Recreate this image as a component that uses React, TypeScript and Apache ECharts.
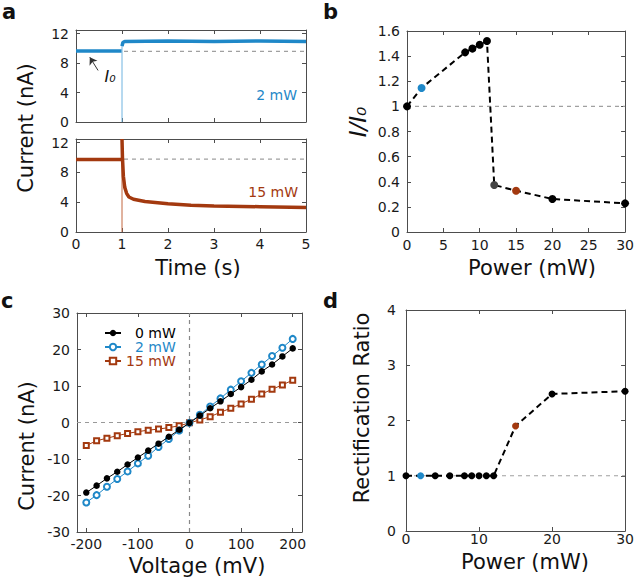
import React, { useEffect, useRef } from "react";
import * as echarts from "echarts";

const FONT = "'DejaVu Sans', 'Open Sans', sans-serif";
const BLUE = "#1f88c8";
const BROWN = "#a3390f";
const GRAYDASH = "#a0a0a0";
const AXIS = "#4d4d4d";
const TICKFS = 14;

// ---- Panel a: current vs time ----
const timeTicks = [0, 1, 2, 3, 4, 5];
const currentTicksA = [0, 4, 8, 12];
const i0Top = 9.6;
const i0Bottom = 9.8;
const blueBefore = [[0, 9.65], [0.99, 9.65]];
const blueAfter = [[1.0, 10.3], [1.02, 10.8], [1.06, 10.95], [2, 11.0], [3, 10.95], [4, 11.0], [5, 10.95]];
const blueSpike = [[1, 0], [1, 10.8]];
const brownBefore = [[0, 9.75], [0.99, 9.75]];
const brownAfter = [[1, 12.5], [1.01, 10], [1.03, 7.5], [1.06, 6.0], [1.1, 5.2], [1.15, 4.7], [1.25, 4.4], [1.5, 4.1], [2, 3.8], [2.5, 3.6], [3, 3.5], [4, 3.4], [5, 3.3]];
const brownSpike = [[1, 0], [1, 12.5]];

// ---- Panel b: I/I0 vs power ----
const bPower = [0, 2, 8, 9, 10, 11, 12, 15, 20, 30];
const bRatio = [1.0, 1.146, 1.43, 1.46, 1.49, 1.52, 0.374, 0.329, 0.263, 0.228];
const bColors = ["#000", BLUE, "#000", "#000", "#000", "#000", "#444", BROWN, "#000", "#000"];

// ---- Panel c: I-V curves ----
const voltage = [-200, -180, -160, -140, -120, -100, -80, -60, -40, -20, 0, 20, 40, 60, 80, 100, 120, 140, 160, 180, 200];
const iv0 = [-19.2, -17.3, -15.3, -13.5, -11.5, -9.6, -7.7, -5.8, -3.9, -2.0, -0.1, 1.9, 3.9, 5.8, 7.8, 9.7, 11.7, 14.0, 15.9, 18.1, 20.3];
const iv2 = [-21.9, -19.9, -17.6, -15.5, -13.4, -11.2, -9.1, -6.7, -4.5, -2.2, -0.1, 2.1, 4.4, 6.6, 9.0, 11.3, 13.6, 15.9, 18.2, 20.5, 22.9];
const iv15 = [-6.3, -5.0, -4.3, -3.6, -3.0, -2.5, -2.1, -1.8, -1.4, -0.9, -0.1, 0.7, 1.6, 2.8, 3.9, 5.1, 6.4, 7.8, 9.1, 10.3, 11.6];
const voltageTicks = [-200, -100, 0, 100, 200];

// ---- Panel d: rectification ratio ----
const dPower = [0, 2, 4, 6, 8, 9, 10, 11, 12, 15, 20, 30];
const dRatio = [1.0, 1.0, 1.0, 1.0, 1.0, 1.0, 1.0, 1.0, 1.0, 1.9, 2.48, 2.53];
const dColors = ["#000", BLUE, "#000", "#000", "#000", "#000", "#000", "#000", "#000", BROWN, "#000", "#000"];

type AxSpec = { min: number; max: number; interval?: number; custom?: number[]; labels: boolean; fmt?: any; margin?: number };

function buildAxes() {
  const xAxis: any[] = [];
  const yAxis: any[] = [];
  const add = (grid: number, x: AxSpec, y: AxSpec) => {
    for (const pos of ["bottom", "top"]) {
      xAxis.push({
        type: "value", gridIndex: grid, position: pos, min: x.min, max: x.max,
        interval: x.interval,
        axisLine: { show: true, onZero: false, lineStyle: { color: AXIS, width: 1 } },
        axisTick: { show: true, inside: true, length: 4, lineStyle: { color: AXIS }, customValues: x.custom },
        axisLabel: {
          show: pos === "bottom" && x.labels, color: "#1a1a1a", fontSize: TICKFS, fontFamily: FONT,
          margin: x.margin ?? 5, customValues: x.custom, formatter: x.fmt,
        },
        splitLine: { show: false },
      });
    }
    for (const pos of ["left", "right"]) {
      yAxis.push({
        type: "value", gridIndex: grid, position: pos, min: y.min, max: y.max,
        interval: y.interval,
        axisLine: { show: true, onZero: false, lineStyle: { color: AXIS, width: 1 } },
        axisTick: { show: true, inside: true, length: 4, lineStyle: { color: AXIS }, customValues: y.custom },
        axisLabel: {
          show: pos === "left" && y.labels, color: "#1a1a1a", fontSize: TICKFS, fontFamily: FONT,
          margin: y.margin ?? 7, customValues: y.custom, formatter: y.fmt,
        },
        splitLine: { show: false },
      });
    }
  };
  add(0, { min: 0, max: 5, interval: 1, labels: false }, { min: 0, max: 12.5, custom: currentTicksA, labels: true });
  add(1, { min: 0, max: 5, interval: 1, labels: true, margin: 5 }, { min: 0, max: 12.5, custom: currentTicksA, labels: true });
  add(2, { min: 0, max: 30, interval: 5, labels: true, margin: 6 }, { min: 0, max: 1.6, interval: 0.2, labels: true, fmt: (v: number) => String(+v.toFixed(1)) });
  add(3, { min: -218, max: 218, custom: voltageTicks, labels: true, margin: 5 }, { min: -30, max: 30, interval: 10, labels: true });
  add(4, { min: 0, max: 30, interval: 10, labels: true, margin: 1 }, { min: 0, max: 4, interval: 1, labels: true, margin: 10 });
  return { xAxis, yAxis };
}

function dashed(g: number, data: number[][], color = GRAYDASH) {
  return {
    type: "line", xAxisIndex: 2 * g, yAxisIndex: 2 * g, data, symbol: "none", silent: true, z: 1,
    lineStyle: { color, width: 1.2, type: [4, 4] },
  };
}
function trace(g: number, data: number[][], color: string, width: number) {
  return {
    type: "line", xAxisIndex: 2 * g, yAxisIndex: 2 * g, data, symbol: "none", silent: true, z: 3,
    lineStyle: { color, width, cap: "butt" },
  };
}

function txt(text: string, x: number, y: number, extra: any = {}, style: any = {}) {
  return {
    type: "text", x, y, ...extra,
    style: {
      text, fill: "#111", fontSize: 21, fontFamily: FONT,
      textAlign: "center", textVerticalAlign: "middle", align: "center", verticalAlign: "middle",
      ...style,
    },
  };
}

const letterStyle = {
  fontWeight: "bold", fontSize: 21, textAlign: "left", align: "left",
  textVerticalAlign: "top", verticalAlign: "top",
};

export default function App() {
  const ref = useRef<HTMLDivElement>(null);
  useEffect(() => {
    if (!ref.current) return;
    const chart = echarts.init(ref.current, undefined, { renderer: "svg" });
    const { xAxis, yAxis } = buildAxes();
    const series: any[] = [
      // panel a top
      dashed(0, [[0, i0Top], [5, i0Top]]),
      trace(0, blueSpike, "#6fb3e0", 1),
      trace(0, blueBefore, BLUE, 3.5),
      {
        ...trace(0, blueAfter, BLUE, 3.5),
        markLine: {
          silent: true, symbol: ["none", "arrow"], symbolSize: 7,
          lineStyle: { color: "#333", width: 1, type: "solid" }, label: { show: false },
          data: [[{ coord: [0.48, 7.0] }, { coord: [0.3, 8.8] }]],
        },
      },
      // panel a bottom
      dashed(1, [[0, i0Bottom], [5, i0Bottom]]),
      trace(1, brownSpike, "#c2673f", 1),
      trace(1, brownBefore, BROWN, 3.5),
      trace(1, brownAfter, BROWN, 3.5),
      // panel b
      dashed(2, [[0, 1], [30, 1]]),
      {
        type: "line", xAxisIndex: 4, yAxisIndex: 4, clip: false, z: 4,
        data: bPower.map((p, i) => ({ value: [p, bRatio[i]], itemStyle: { color: bColors[i] } })),
        symbol: "circle", symbolSize: 8,
        lineStyle: { color: "#000", width: 2, type: [6, 4] },
      },
      // panel c
      dashed(3, [[0, -30], [0, 30]], "#888"),
      dashed(3, [[-218, 0], [218, 0]], "#999"),
      {
        name: "15 mW", type: "line", xAxisIndex: 6, yAxisIndex: 6, clip: false, z: 4,
        data: voltage.map((v, i) => [v, iv15[i]]),
        symbol: "emptyRect", symbolSize: 5,
        itemStyle: { color: BROWN, borderWidth: 1 }, lineStyle: { color: BROWN, width: 1 },
      },
      {
        name: "2 mW", type: "line", xAxisIndex: 6, yAxisIndex: 6, clip: false, z: 5,
        data: voltage.map((v, i) => [v, iv2[i]]),
        symbol: "emptyCircle", symbolSize: 6,
        itemStyle: { color: BLUE, borderWidth: 1 }, lineStyle: { color: BLUE, width: 1 },
      },
      {
        name: "0 mW", type: "line", xAxisIndex: 6, yAxisIndex: 6, clip: false, z: 6,
        data: voltage.map((v, i) => [v, iv0[i]]),
        symbol: "circle", symbolSize: 6.5,
        itemStyle: { color: "#000" }, lineStyle: { color: "#000", width: 1 },
      },
      // panel d
      dashed(4, [[0, 1], [30, 1]]),
      {
        type: "line", xAxisIndex: 8, yAxisIndex: 8, clip: false, z: 4,
        data: dPower.map((p, i) => ({ value: [p, dRatio[i]], itemStyle: { color: dColors[i] } })),
        symbol: "circle", symbolSize: 7,
        lineStyle: { color: "#000", width: 2, type: [6, 4] },
      },
    ];

    const sub0 = "\u2080";
    const option: any = {
      animation: false,
      backgroundColor: "#ffffff",
      textStyle: { fontFamily: FONT },
      grid: [
        { left: 76, top: 30, width: 230, height: 92 },
        { left: 76, top: 139, width: 230, height: 93 },
        { left: 407, top: 31, width: 221, height: 201 },
        { left: 77, top: 313, width: 225, height: 219 },
        { left: 406, top: 310, width: 220, height: 221 },
      ],
      xAxis,
      yAxis,
      legend: {
        orient: "vertical", left: 104, top: 326, itemGap: 0, itemWidth: 16, itemHeight: 8,
        padding: 0,
        data: [
          { name: "0 mW", textStyle: { color: "#000" } },
          { name: "2 mW", textStyle: { color: BLUE } },
          { name: "15 mW", textStyle: { color: BROWN } },
        ],
        formatter: (n: string) => (n === "15 mW" ? n : "\u2007" + n),
        textStyle: { fontSize: 14, lineHeight: 14, fontFamily: FONT, padding: [0, 0, 0, 0] },
      },
      series,
      graphic: [
        txt("a", 2, 1, {}, letterStyle),
        txt("b", 323, 1, {}, letterStyle),
        txt("c", 1, 290, {}, letterStyle),
        txt("d", 323, 290, {}, letterStyle),
        txt("Current (nA)", 26, 128, { rotation: Math.PI / 2 }),
        txt("Time (s)", 198, 268),
        txt("I/I" + sub0, 358, 122, { rotation: Math.PI / 2 }, { fontStyle: "italic", fontSize: 23 }),
        txt("Power (mW)", 532, 268),
        txt("Current (nA)", 27, 446, { rotation: Math.PI / 2 }),
        txt("Voltage (mV)", 197, 566),
        txt("Rectification Ratio", 362, 408, { rotation: Math.PI / 2 }),
        txt("Power (mW)", 525, 562),
        txt("2 mW", 297, 95, {}, { fill: BLUE, fontSize: 14, textAlign: "right", align: "right" }),
        txt("15 mW", 298, 192, {}, { fill: BROWN, fontSize: 14, textAlign: "right", align: "right" }),
        txt("I" + sub0, 110, 76, {}, { fontStyle: "italic", fontSize: 16 }),
      ],
    };
    chart.setOption(option);
    return () => chart.dispose();
  }, []);
  return (
    <div
      ref={ref}
      style={{ position: "fixed", left: 0, top: 0, width: 637, height: 579, background: "#fff" }}
    />
  );
}
